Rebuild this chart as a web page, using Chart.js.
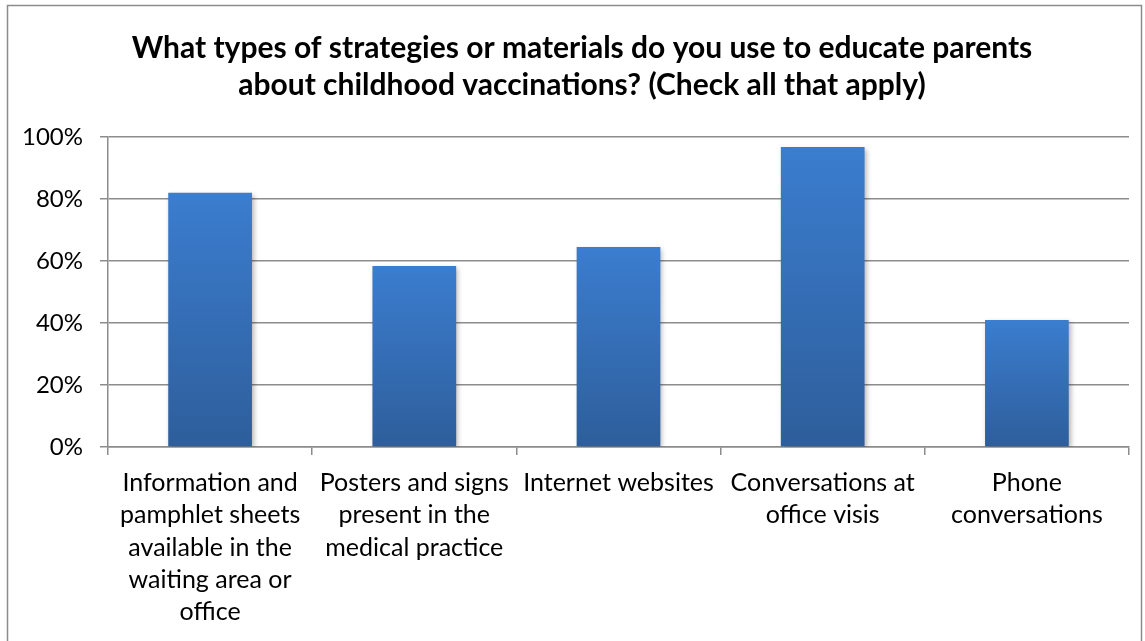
<!DOCTYPE html>
<html>
<head>
<meta charset="utf-8">
<script src="https://cdn.jsdelivr.net/npm/chart.js@4.4.1/dist/chart.umd.min.js"></script>
<style>
    html, body { margin: 0; padding: 0; background: #fff; }
    #wrap { position: relative; width: 1145px; height: 641px; }
</style>
</head>
<body>
<div id="wrap"><canvas id="chart" width="1145" height="641"></canvas></div>
<script>
const titleLines = [
    'What types of strategies or materials do you use to educate parents',
    'about childhood vaccinations? (Check all that apply)'
];

const categories = [
    ['Information and', 'pamphlet sheets', 'available in the', 'waiting area or', 'office'],
    ['Posters and signs', 'present in the', 'medical practice'],
    ['Internet websites'],
    ['Conversations at', 'office visis'],
    ['Phone', 'conversations']
];

const percents = [82, 58.4, 64.5, 96.8, 41];

const yTicks = [0, 20, 40, 60, 80, 100];

const FONT = "Lato, 'Noto Sans', sans-serif";

const frame = {
    id: 'frame',
    beforeDraw(chart) {
        const c = chart.ctx;
        c.save();
        c.fillStyle = '#fff';
        c.fillRect(0, 0, chart.width, chart.height);
        c.strokeStyle = '#8c8c8c';
        c.lineWidth = 1.5;
        c.strokeRect(7.5, 5.5, 1134, 650);
        c.restore();
    }
};

// the title in the picture sits a little right of the canvas centre
const titleShift = {
    id: 'titleShift',
    afterLayout(chart) {
        const t = chart.titleBlock;
        if (t) {
            t.left += 35;
            t.width -= 35;
        }
    }
};

const barShadow = {
    id: 'barShadow',
    beforeDatasetDraw(chart) {
        const c = chart.ctx;
        c.save();
        c.shadowColor = 'rgba(0, 0, 0, 0.3)';
        c.shadowBlur = 5;
        c.shadowOffsetX = 2;
        c.shadowOffsetY = 2;
    },
    afterDatasetDraw(chart) {
        chart.ctx.restore();
    }
};

function barGradient(context) {
    const chart = context.chart;
    const area = chart.chartArea;
    if (!area || context.raw === undefined) return '#3a78c4';
    const top = chart.scales.y.getPixelForValue(context.raw);
    const g = chart.ctx.createLinearGradient(0, top, 0, area.bottom);
    g.addColorStop(0, '#3b7dcf');
    g.addColorStop(1, '#2e5e9b');
    return g;
}

new Chart(document.getElementById('chart').getContext('2d'), {
    type: 'bar',
    data: {
        labels: categories,
        datasets: [{
            data: percents,
            backgroundColor: barGradient,
            borderWidth: 0,
            barPercentage: 0.82,
            categoryPercentage: 0.5
        }]
    },
    options: {
        responsive: false,
        animation: false,
        layout: { padding: { left: 0, right: 16, top: 0, bottom: 0 } },
        plugins: {
            legend: { display: false },
            tooltip: { enabled: false },
            title: {
                display: true,
                text: titleLines,
                color: '#000',
                font: { family: FONT, size: 30, weight: 'bold', lineHeight: 1.233 },
                padding: { top: 29.5, bottom: 33.5 }
            }
        },
        scales: {
            y: {
                min: 0,
                max: 100,
                afterBuildTicks(scale) {
                    scale.ticks = yTicks.map(v => ({ value: v }));
                },
                afterFit(scale) { scale.width = 108; },
                border: { display: true, color: '#8c8c8c', width: 1.5 },
                grid: { color: '#8c8c8c', lineWidth: 1.5, tickLength: 8 },
                ticks: {
                    color: '#000',
                    padding: 17,
                    font: { family: FONT, size: 24 },
                    callback: v => v + '%'
                }
            },
            x: {
                afterFit(scale) { scale.height = 194; },
                border: { display: true, color: '#8c8c8c', width: 1.5 },
                grid: { drawOnChartArea: false, color: '#8c8c8c', lineWidth: 1.5, tickLength: 8, offset: true },
                ticks: {
                    color: '#000',
                    padding: 12,
                    maxRotation: 0,
                    autoSkip: false,
                    font: { family: FONT, size: 25, lineHeight: 1.29 }
                }
            }
        }
    },
    plugins: [frame, titleShift, barShadow]
});
</script>
</body>
</html>
